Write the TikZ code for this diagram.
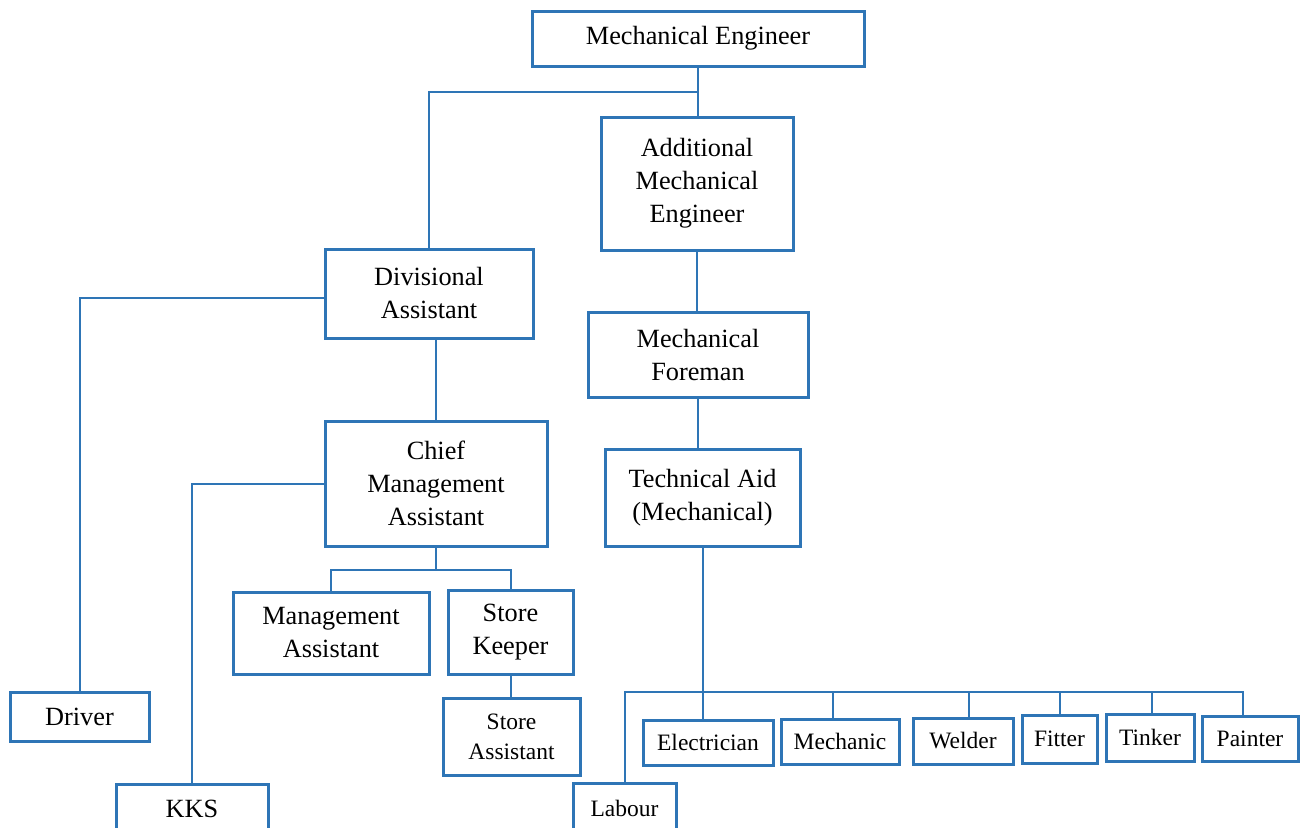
\documentclass[tikz,border=0pt]{standalone}
\usepackage{fontspec}
\setmainfont{Liberation Serif}
\definecolor{orgblue}{RGB}{46,117,182}
\begin{document}
\begin{tikzpicture}[x=1pt,y=-1pt,
  box/.style={draw=orgblue, line width=3pt, rectangle, inner sep=0pt, align=center,
              font=\fontsize{26.3}{33}\selectfont, text=black},
  sbox/.style={box, font=\fontsize{23.5}{30}\selectfont},
  conn/.style={draw=orgblue, line width=2pt}]
\clip (0,0) rectangle (1306,827);
\fill[white] (0,0) rectangle (1306,827);

\node[box, minimum width=332pt, minimum height=55pt] (me) at (698,38.5) {Mechanical Engineer};
\node[box, minimum width=192pt, minimum height=133pt] (ame) at (697,183.5) {Additional\\Mechanical\\Engineer};
\node[box, minimum width=208pt, minimum height=89pt] (da) at (429,293.5) {Divisional\\Assistant};
\node[box, minimum width=220pt, minimum height=85pt] (mf) at (698,354.5) {Mechanical\\Foreman};
\node[box, minimum width=222pt, minimum height=125pt] (cma) at (436,483.5) {Chief\\Management\\Assistant};
\node[box, minimum width=195pt, minimum height=97pt] (ta) at (702.5,497.5) {Technical Aid\\(Mechanical)};
\node[box, minimum width=196pt, minimum height=82pt] (ma) at (331,633) {Management\\Assistant};
\node[box, minimum width=125pt, minimum height=84pt] (sk) at (510.5,632) {Store\\Keeper};
\node[sbox, minimum width=137pt, minimum height=77pt] (sa) at (511.5,736.5) {Store\\Assistant};
\node[box, minimum width=139pt, minimum height=49pt] (drv) at (79.5,716.5) {Driver};
\node[box, minimum width=152pt, minimum height=50pt] (kks) at (192,809) {KKS};
\node[sbox, minimum width=103pt, minimum height=50pt] (lab) at (624.5,808) {Labour};
\node[sbox, minimum width=130pt, minimum height=45pt] (el) at (708,742.5) {Electrician};
\node[sbox, minimum width=118pt, minimum height=45pt] (mech) at (840,741.5) {Mechanic};
\node[sbox, minimum width=100pt, minimum height=46pt] (wel) at (963,741) {Welder};
\node[sbox, minimum width=75pt, minimum height=48pt] (fit) at (1059.5,739) {Fitter};
\node[sbox, minimum width=88pt, minimum height=47pt] (tin) at (1150,737.5) {Tinker};
\node[sbox, minimum width=96pt, minimum height=45pt] (pai) at (1250,738.5) {Painter};

\coordinate (j1) at (698,92);
\coordinate (j2) at (436,570);
\coordinate (j3) at (702.5,692);

\draw[conn] (me.south) -- (me.south |- ame.north);
\draw[conn] (j1) -| (da.north);
\draw[conn] (ame.south) -- (ame.south |- mf.north);
\draw[conn] (mf.south) -- (mf.south |- ta.north);
\draw[conn] ([yshift=-4pt]da.west) -| (drv.north);
\draw[conn] (cma.north |- da.south) -- (cma.north);
\draw[conn] (cma.west) -| (kks.north);
\draw[conn] (cma.south) -- (j2);
\draw[conn] (j2) -| (ma.north);
\draw[conn] (j2) -| (sk.north);
\draw[conn] (sk.south) -- (sk.south |- sa.north);
\draw[conn] (ta.south) -- (j3);
\draw[conn] (j3) -| (lab.north);
\draw[conn] (j3) -| ([xshift=-7pt]pai.north);
\draw[conn] (j3) -- (j3 |- el.north);
\draw[conn] ([xshift=-7pt]mech.north |- j3) -- ([xshift=-7pt]mech.north);
\draw[conn] ([xshift=6pt]wel.north |- j3) -- ([xshift=6pt]wel.north);
\draw[conn] (fit.north |- j3) -- (fit.north);
\draw[conn] ([xshift=2pt]tin.north |- j3) -- ([xshift=2pt]tin.north);
\end{tikzpicture}
\end{document}
